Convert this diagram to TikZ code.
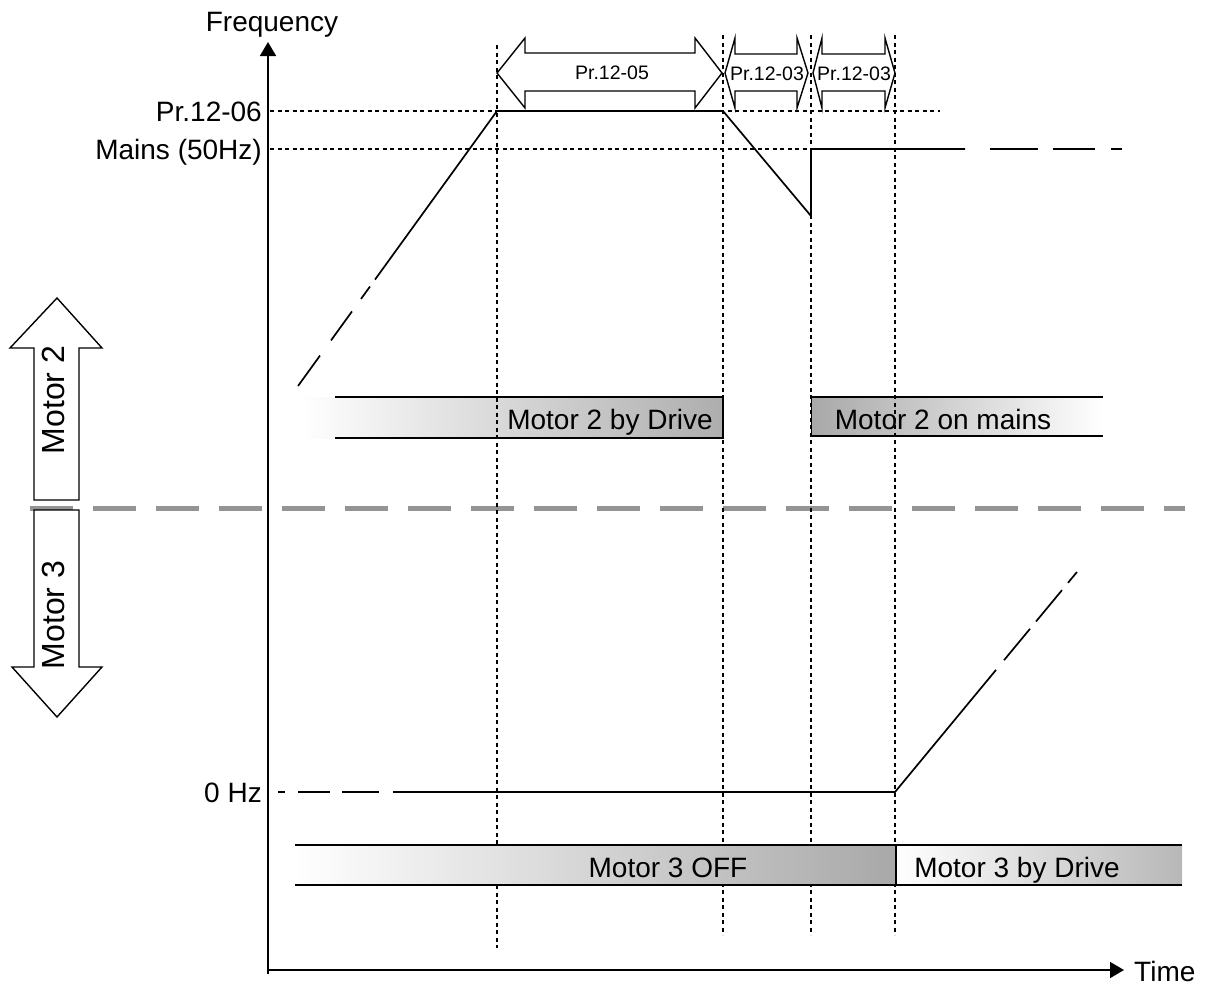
\documentclass[tikz,border=0pt]{standalone}
\usepackage{fontspec}
\setmainfont{Liberation Sans}
\usetikzlibrary{arrows.meta}
\begin{document}
\begin{tikzpicture}[x=1pt,y=-1pt,
  curve/.style={line width=1.7pt, black},
  dotline/.style={line width=2.1pt, dash pattern=on 4pt off 3.5pt, black},
  outline/.style={draw=black, line width=1.4pt, fill=white, line join=miter},
  barline/.style={line width=1.9pt, black},
  lbl/.style={font=\fontsize{28}{30}\selectfont, inner sep=0pt},
  motorlbl/.style={font=\fontsize{32}{34}\selectfont, inner sep=0pt, rotate=90},
  small/.style={font=\fontsize{19.5}{21}\selectfont, inner sep=0pt},
  axisline/.style={line width=1.7pt, -{Triangle[length=14pt,width=16pt]}},
  sep/.style={line width=5pt, color=black!42, dash pattern=on 43pt off 20pt},
]
\useasboundingbox (0,0) rectangle (1205,985);

% ---- upper bars (below dotted lines)
\shade[left color=white, right color=black!32] (300,397) rectangle (723,438);
\draw[barline] (335,397) -- (723,397) -- (723,438) -- (335,438);
\node[lbl, anchor=base] (m2drive) at (610,429) {Motor 2 by Drive};

\shade[left color=black!34, right color=white] (811,397) rectangle (1103,436);
\draw[barline] (1103,397) -- (811,397);
\draw[barline] (1103,436) -- (811,436);
\draw[line width=1pt] (811,397) -- (811,436);
\node[lbl, anchor=base] (m2mains) at (943,429) {Motor 2 on mains};

% ---- gray separator
\draw[sep] (30,508) -- (1185,508);

% ---- Motor arrows
\draw[outline] (34,500) -- (34,348) -- (10,348) -- (57,298) -- (102,348) -- (79,348) -- (79,500) -- cycle;
\node[motorlbl] (m2lbl) at (53,400) {Motor 2};
\draw[outline] (34,510) -- (79,510) -- (79,667) -- (102,667) -- (57,717) -- (12,667) -- (34,667) -- cycle;
\node[motorlbl] (m3lbl) at (53,615) {Motor 3};

% ---- dotted guide lines
\draw[dotline] (270,111) -- (940,111);
\draw[dotline] (270,149) -- (920,149);
\draw[dotline] (497,45) -- (497,948);
\draw[dotline] (723,35) -- (723,935);
\draw[dotline] (811,35) -- (811,935);
\draw[dotline] (895,35) -- (895,935);

% ---- lower bars (above dotted lines)
\shade[left color=white, right color=black!34] (295,845) rectangle (896,885);
\draw[barline] (295,845) -- (896,845);
\draw[barline] (295,885) -- (896,885);
\node[lbl, anchor=base] (m3off) at (668,877) {Motor 3 OFF};

\shade[left color=white, right color=black!28] (897,845) rectangle (1182,885);
\draw[barline] (896,845) -- (1182,845);
\draw[barline] (896,885) -- (1182,885);
\draw[line width=1.6pt] (896,845) -- (896,885);
\node[lbl, anchor=base] (m3drive) at (1017,877) {Motor 3 by Drive};

% ---- axes
\draw[axisline] (268,974) -- (268,42);
\draw[axisline] (267,970) -- (1124,970);
\node[lbl, anchor=base] (freq) at (272,31) {Frequency};
\node[lbl, anchor=base west] (time) at (1134,981) {Time};
\node[lbl, anchor=base east] (p1206) at (262,121) {Pr.12-06};
\node[lbl, anchor=base east] (mains) at (262,159) {Mains (50Hz)};
\node[lbl, anchor=base east] (zero) at (262,802) {0 Hz};

% ---- Motor 2 frequency curve
\draw[curve] (298,386) -- (320,355.6);
\draw[curve] (331,340.4) -- (352,311.4);
\draw[curve] (361,298.9) -- (370,286.5);
\draw[curve, line join=miter] (375,279.6) -- (497,111) -- (723,111) -- (811,216) -- (811,149) -- (965,149);
\draw[curve] (990,149) -- (1038,149);
\draw[curve] (1053,149) -- (1095,149);
\draw[curve] (1111,149) -- (1122,149);

% ---- Motor 3 frequency curve
\draw[curve] (278,792) -- (285,792);
\draw[curve] (298,792) -- (330,792);
\draw[curve] (342,792) -- (379,792);
\draw[curve] (393,792) -- (895,792) -- (996,669.9);
\draw[curve] (1004,660.2) -- (1030,628.8);
\draw[curve] (1036,621.5) -- (1062,590.1);
\draw[curve] (1068,582.8) -- (1077,572);

% ---- time interval double arrows
\draw[outline] (497,73) -- (525,38) -- (525,53) -- (695,53) -- (695,38) -- (722,73)
  -- (695,108) -- (695,91) -- (525,91) -- (525,108) -- cycle;
\node[small] (p1205) at (612,73) {Pr.12-05};
\draw[outline] (725,73) -- (735,38) -- (735,54) -- (797,54) -- (797,38) -- (808,73)
  -- (797,108) -- (797,91) -- (735,91) -- (735,108) -- cycle;
\node[small] (p1203a) at (767,74) {Pr.12-03};
\draw[outline] (813,73) -- (822,38) -- (822,54) -- (885,54) -- (885,38) -- (895,73)
  -- (885,108) -- (885,91) -- (822,91) -- (822,108) -- cycle;
\node[small] (p1203b) at (854,74) {Pr.12-03};
\end{tikzpicture}
\end{document}
